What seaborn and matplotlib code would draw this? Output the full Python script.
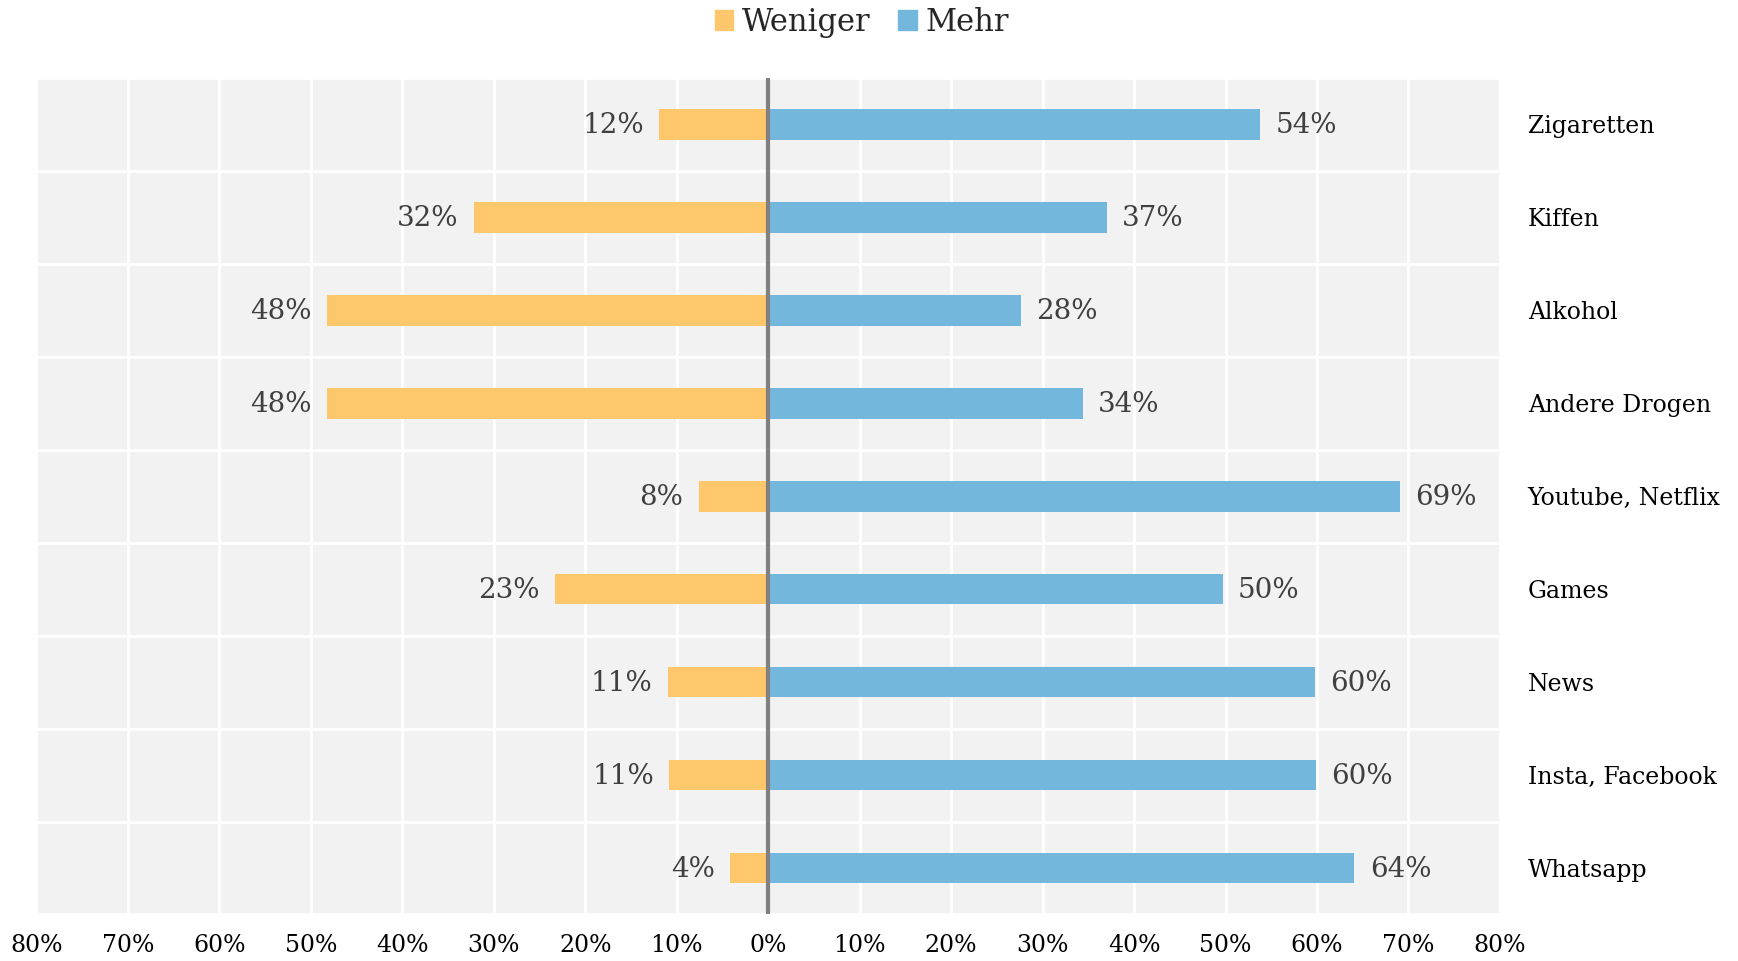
import numpy as np
import pandas as pd
import seaborn as sns
import matplotlib.pyplot as plt
from matplotlib.patches import Patch

### Data (percent)
categories = ['Zigaretten', 'Kiffen', 'Alkohol', 'Andere Drogen', 'Youtube, Netflix',
              'Games', 'News', 'Insta, Facebook', 'Whatsapp']
weniger = [11.9, 32.2, 48.2, 48.2, 7.6, 23.3, 11.0, 10.8, 4.2]
mehr = [53.8, 37.0, 27.6, 34.4, 69.1, 49.7, 59.8, 59.9, 64.1]
ticks = list(range(-80, 81, 10))

col_w = '#fec76c'
col_m = '#73b8dc'

## Long table: "Weniger" drawn to the left as negative values
df = pd.DataFrame({
    'cat': categories * 2,
    'val': [-v for v in weniger] + mehr,
    'serie': ['Weniger'] * len(categories) + ['Mehr'] * len(categories),
})

sns.set_style('white')
plt.rcParams['font.family'] = ['DejaVu Serif']

fig = plt.figure(figsize=(17.38, 9.61), dpi=100)
ax = fig.add_axes([0.021, 0.0484, 0.842, 0.8706])
ax.set_facecolor('#f2f2f2')

sns.barplot(data=df, y='cat', x='val', hue='serie', order=categories,
            palette={'Weniger': col_w, 'Mehr': col_m}, dodge=False,
            width=0.33, orient='h', legend=False, ax=ax, saturation=1,
            linewidth=0, zorder=3)

ax.set_xlim(-80, 80)
ax.set_ylim(len(categories) - 0.5, -0.5)

## Grid: white verticals at every 10%, white horizontals between categories
ax.set_xticks(ticks)
ax.set_xticklabels([f"{abs(t)}%" for t in ticks], fontsize=17, color='black')
ax.set_yticks(np.arange(len(categories) + 1) - 0.5, minor=True)
ax.grid(True, axis='x', which='major', color='white', linewidth=2, zorder=1)
ax.grid(True, axis='y', which='minor', color='white', linewidth=2, zorder=1)
ax.set_axisbelow(True)
ax.axvline(0, color='#808080', linewidth=3, zorder=4)

## Category names on the right
ax.yaxis.tick_right()
ax.set_yticks(range(len(categories)))
ax.set_yticklabels(categories, fontsize=17, color='black', ha='left')
ax.tick_params(axis='y', which='both', length=0, pad=20)
ax.tick_params(axis='x', length=0, pad=14)
ax.set_xlabel('')
ax.set_ylabel('')
for s in ax.spines.values():
    s.set_visible(False)

## Value labels
for i, (w, m) in enumerate(zip(weniger, mehr)):
    ax.annotate(f"{w:.0f}%", (-w, i), xytext=(-11, -1), textcoords='offset points',
                ha='right', va='center', fontsize=20, color='#404040')
    ax.annotate(f"{m:.0f}%", (m, i), xytext=(11, -1), textcoords='offset points',
                ha='left', va='center', fontsize=20, color='#404040')

handles = [Patch(color=col_w, label='Weniger'), Patch(color=col_m, label='Mehr')]
fig.legend(handles=handles, loc='center', bbox_to_anchor=(0.496, 0.977), ncol=2,
           frameon=False, fontsize=22, handlelength=0.6, handleheight=0.6,
           handletextpad=0.3, columnspacing=0.9)

fig.savefig('out.png', dpi=100)
